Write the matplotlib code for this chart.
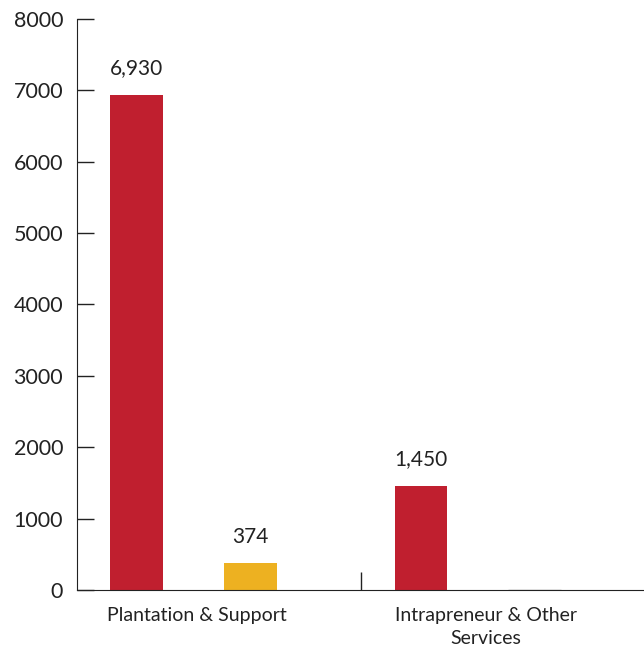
import numpy as np
import matplotlib.pyplot as plt

plt.rcParams['font.family'] = ['Lato', 'DejaVu Sans']

categories = ['Plantation & Support', 'Intrapreneur & Other\nServices']
series_a = [6930, 1450]
series_b = [374, 0]
labels_a = ['6,930', '1,450']
labels_b = ['374', '']

red = '#C01F2F'
yellow = '#EDB121'

fig = plt.figure(figsize=(6.44, 6.52), dpi=100)
ax = fig.add_axes([0.1196, 0.0951, 0.8804, 0.8758])

x = np.arange(len(categories))
w = 0.185
ax.bar(x - 0.2, series_a, width=w, color=red)
bars_b = ax.bar(x + 0.2, series_b, width=w, color=yellow)
# zero-height bars show as a thin dark line
for b, v in zip(bars_b, series_b):
    if v == 0:
        b.set_edgecolor('#444444')
        b.set_linewidth(0.9)

for xi, v, t in zip(x - 0.2, series_a, labels_a):
    ax.text(xi, v + 380, t, ha='center', va='center', fontsize=15, color='#222222')
for xi, v, t in zip(x + 0.2, series_b, labels_b):
    ax.text(xi, v + 370, t, ha='center', va='center', fontsize=15, color='#222222')

ax.set_xlim(-0.41, 1.585)
ax.set_ylim(0, 8000)
ax.set_yticks(np.arange(0, 8001, 1000))
ax.tick_params(axis='y', direction='in', length=12, width=1, labelsize=15.5, pad=10, colors='#222222')
ax.set_xticks([0.01, 1.03])
ax.set_xticklabels(categories, fontsize=14, color='#222222', linespacing=1.45)
ax.tick_params(axis='x', length=0, pad=12)
ax.set_xticks([0.59], minor=True)
ax.tick_params(axis='x', which='minor', direction='in', length=13, width=1, color='#222222')

for s in ['top', 'right']:
    ax.spines[s].set_visible(False)
ax.spines['left'].set_color('#222222')
ax.spines['bottom'].set_color('#222222')

fig.savefig('out.png', dpi=100)
